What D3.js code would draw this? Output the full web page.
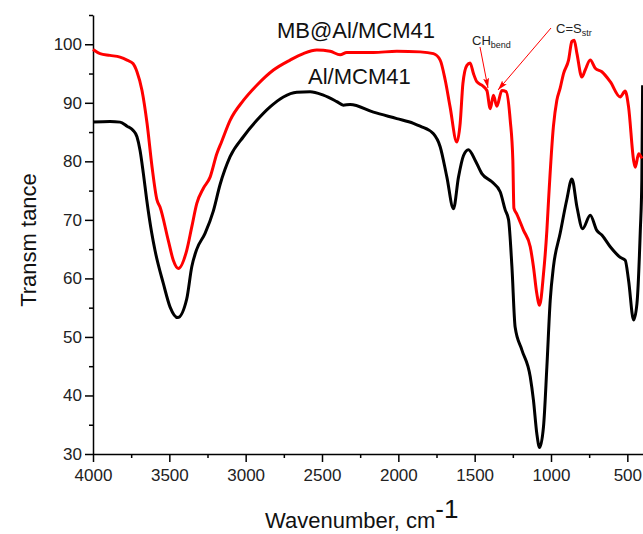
<!DOCTYPE html>
<html>
<head>
<meta charset="utf-8">
<script src="https://cdn.jsdelivr.net/npm/d3@7"></script>
<style>
  body { margin: 0; background: #fff; }
  svg { display: block; font-family: "Liberation Sans", Arial, sans-serif; }
</style>
</head>
<body>
<script>
const width = 643;
const height = 534;

// wavenumber (cm-1) / transmittance
const mbWave = [4000, 3954, 3889, 3823, 3777, 3738, 3712, 3679, 3646, 3613, 3581, 3561, 3507, 3474, 3441,
	3386, 3353, 3320, 3277, 3233, 3189, 3157, 3102, 3015, 2927, 2818, 2709, 2622, 2534, 2447, 2381, 2338,
	2163, 2010, 1857, 1770, 1726, 1693, 1661, 1617, 1595, 1577, 1551, 1530, 1508, 1486, 1453, 1420, 1398,
	1377, 1355, 1322, 1294, 1267, 1250, 1243, 1224, 1180, 1136, 1115, 1093, 1075, 1049, 1027, 1016, 984,
	962, 940, 918, 885, 863, 848, 830, 798, 776, 743, 710, 667, 612, 547, 514, 492, 459, 448, 426, 405];
const mbValues = [99.1, 98.4, 98.1, 97.8, 97.3, 96.7, 95.3, 92.1, 86.5, 79, 73.4, 72.2, 66.5, 63.1, 61.7,
	64.8, 68.8, 72.8, 75.4, 77.3, 81.3, 83.4, 87, 90.4, 93, 95.6, 97.3, 98.4, 99, 98.8, 98.2, 98.6,
	98.6, 98.8, 98.7, 98.4, 97.3, 93.9, 89.3, 83.3, 86.5, 93.3, 96.4, 96.8, 95, 93.6, 93, 92.1, 89,
	91.3, 89.4, 92.1, 91.9, 87, 80.2, 72, 71, 68.2, 65.4, 62, 57.4, 55.4, 60.8, 68.2, 73.4, 86,
	90.4, 92.5, 95, 97.3, 100.5, 100.7, 98.4, 94.4, 95.6, 97.3, 95.9, 95.3, 93.6, 91, 92, 89.3, 80.2, 79, 81.3, 80.5];

const alWave = [4000, 3889, 3823, 3777, 3738, 3712, 3692, 3670, 3648, 3615, 3594, 3539, 3495, 3445,
	3386, 3353, 3320, 3266, 3212, 3168, 3102, 3015, 2927, 2840, 2753, 2665, 2578, 2491, 2403, 2360, 2316,
	2163, 2010, 1901, 1857, 1770, 1726, 1682, 1639, 1606, 1573, 1541, 1497, 1453, 1387, 1333, 1300, 1278,
	1256, 1235, 1191, 1136, 1115, 1093, 1075, 1049, 1027, 1005, 984, 940, 897, 863, 830, 793, 743, 700,
	667, 612, 547, 514, 492, 459, 437, 415, 405, 400];
const alValues = [86.7, 86.8, 86.7, 86, 85.3, 84.2, 81.9, 77.9, 73.4, 67.7, 64.8, 59.1, 55.1, 53.3,
	56.5, 62, 65, 67.7, 71.5, 76, 80.8, 84.2, 87, 89.3, 91, 91.8, 91.9, 91.3, 90.2, 89.6, 89.7,
	88.4, 87.3, 86.5, 86, 84.7, 82.5, 77.3, 71.9, 77.3, 81, 82, 80.2, 77.9, 76.5, 74.8, 71.7, 70,
	62, 51.7, 47.8, 43.2, 39.2, 33.5, 31.1, 34.7, 44.9, 56.3, 62, 67.7, 73.4, 77, 72.2, 68.5, 70.8, 68.2,
	67.4, 65.4, 63.6, 63.1, 59.7, 52.9, 55.7, 68.2, 76.8, 93];

const xTicks = [4000, 3500, 3000, 2500, 2000, 1500, 1000, 500];
const xMinor = [3750, 3250, 2750, 2250, 1750, 1250, 750];
const yTicks = [30, 40, 50, 60, 70, 80, 90, 100];
const yMinor = [35, 45, 55, 65, 75, 85, 95, 105];

const x = d3.scaleLinear().domain([4000, 400]).range([93, 642.6]);
const y = d3.scaleLinear().domain([30, 105]).range([454, 15]);

const svg = d3.select("body")
	.append("svg")
	.attr("width", width)
	.attr("height", height);

// minor ticks
svg.append("g")
	.attr("transform", "translate(0,454)")
	.call(d3.axisBottom(x).tickValues(xMinor).tickSize(4).tickFormat(""))
	.call(g => g.select(".domain").remove());
svg.append("g")
	.attr("transform", "translate(93,0)")
	.call(d3.axisLeft(y).tickValues(yMinor).tickSize(4).tickFormat(""))
	.call(g => g.select(".domain").remove());

svg.append("g")
	.attr("transform", "translate(0,454)")
	.call(d3.axisBottom(x).tickValues(xTicks).tickFormat(d3.format("d"))
		.tickSize(8).tickPadding(7).tickSizeOuter(0));
svg.append("g")
	.attr("transform", "translate(93,0)")
	.call(d3.axisLeft(y).tickValues(yTicks).tickFormat(d3.format("d"))
		.tickSize(8).tickPadding(3).tickSizeOuter(0));

svg.selectAll(".tick line, .domain").attr("stroke", "#000").attr("stroke-width", 1.5);
svg.selectAll(".tick text").attr("font-size", 17).attr("fill", "#222")
	.attr("font-family", "'Liberation Sans', Arial, sans-serif");

const line = d3.line()
	.x((d) => x(d[0]))
	.y((d) => y(d[1]))
	.curve(d3.curveMonotoneX);

svg.append("path")
	.datum(alWave.map((w, i) => [w, alValues[i]]))
	.attr("fill", "none")
	.attr("stroke", "#000")
	.attr("stroke-width", 3)
	.attr("stroke-linejoin", "round")
	.attr("d", line);

svg.append("path")
	.datum(mbWave.map((w, i) => [w, mbValues[i]]))
	.attr("fill", "none")
	.attr("stroke", "#ff0000")
	.attr("stroke-width", 3)
	.attr("stroke-linejoin", "round")
	.attr("d", line);

// series labels
svg.append("text").attr("x", 277).attr("y", 38).attr("font-size", 22).attr("fill", "#111")
	.text("MB@Al/MCM41");
svg.append("text").attr("x", 308).attr("y", 84).attr("font-size", 22).attr("fill", "#111")
	.text("Al/MCM41");

// annotations
svg.append("defs").append("marker")
	.attr("id", "arr")
	.attr("viewBox", "0 0 10 6")
	.attr("refX", 10).attr("refY", 3)
	.attr("markerWidth", 10).attr("markerHeight", 6)
	.attr("markerUnits", "userSpaceOnUse")
	.attr("orient", "auto")
	.append("path")
	.attr("d", "M0,0L10,3L0,6L2,3Z")
	.attr("fill", "#ff0000");

const ch = svg.append("text").attr("x", 472).attr("y", 45).attr("font-size", 13).attr("fill", "#222");
ch.append("tspan").text("CH");
ch.append("tspan").attr("font-size", 9).attr("dy", 3).text("bend");

const cs = svg.append("text").attr("x", 556).attr("y", 33).attr("font-size", 13).attr("fill", "#222");
cs.append("tspan").text("C=S");
cs.append("tspan").attr("font-size", 9).attr("dy", 3).text("str");

svg.append("line").attr("x1", 480).attr("y1", 47).attr("x2", 488).attr("y2", 88)
	.attr("stroke", "#ff0000").attr("stroke-width", 1).attr("marker-end", "url(#arr)");
svg.append("line").attr("x1", 551).attr("y1", 28).attr("x2", 498).attr("y2", 90)
	.attr("stroke", "#ff0000").attr("stroke-width", 1).attr("marker-end", "url(#arr)");

// axis titles
svg.append("text")
	.attr("transform", "translate(36,240) rotate(-90)")
	.attr("text-anchor", "middle")
	.attr("font-size", 22)
	.attr("fill", "#111")
	.text("Transm tance");

const xt = svg.append("text").attr("x", 265).attr("y", 528).attr("font-size", 22).attr("fill", "#111");
xt.append("tspan").text("Wavenumber, cm");
xt.append("tspan").attr("font-size", 26).attr("dy", -10).text("-1");
</script>
</body>
</html>
